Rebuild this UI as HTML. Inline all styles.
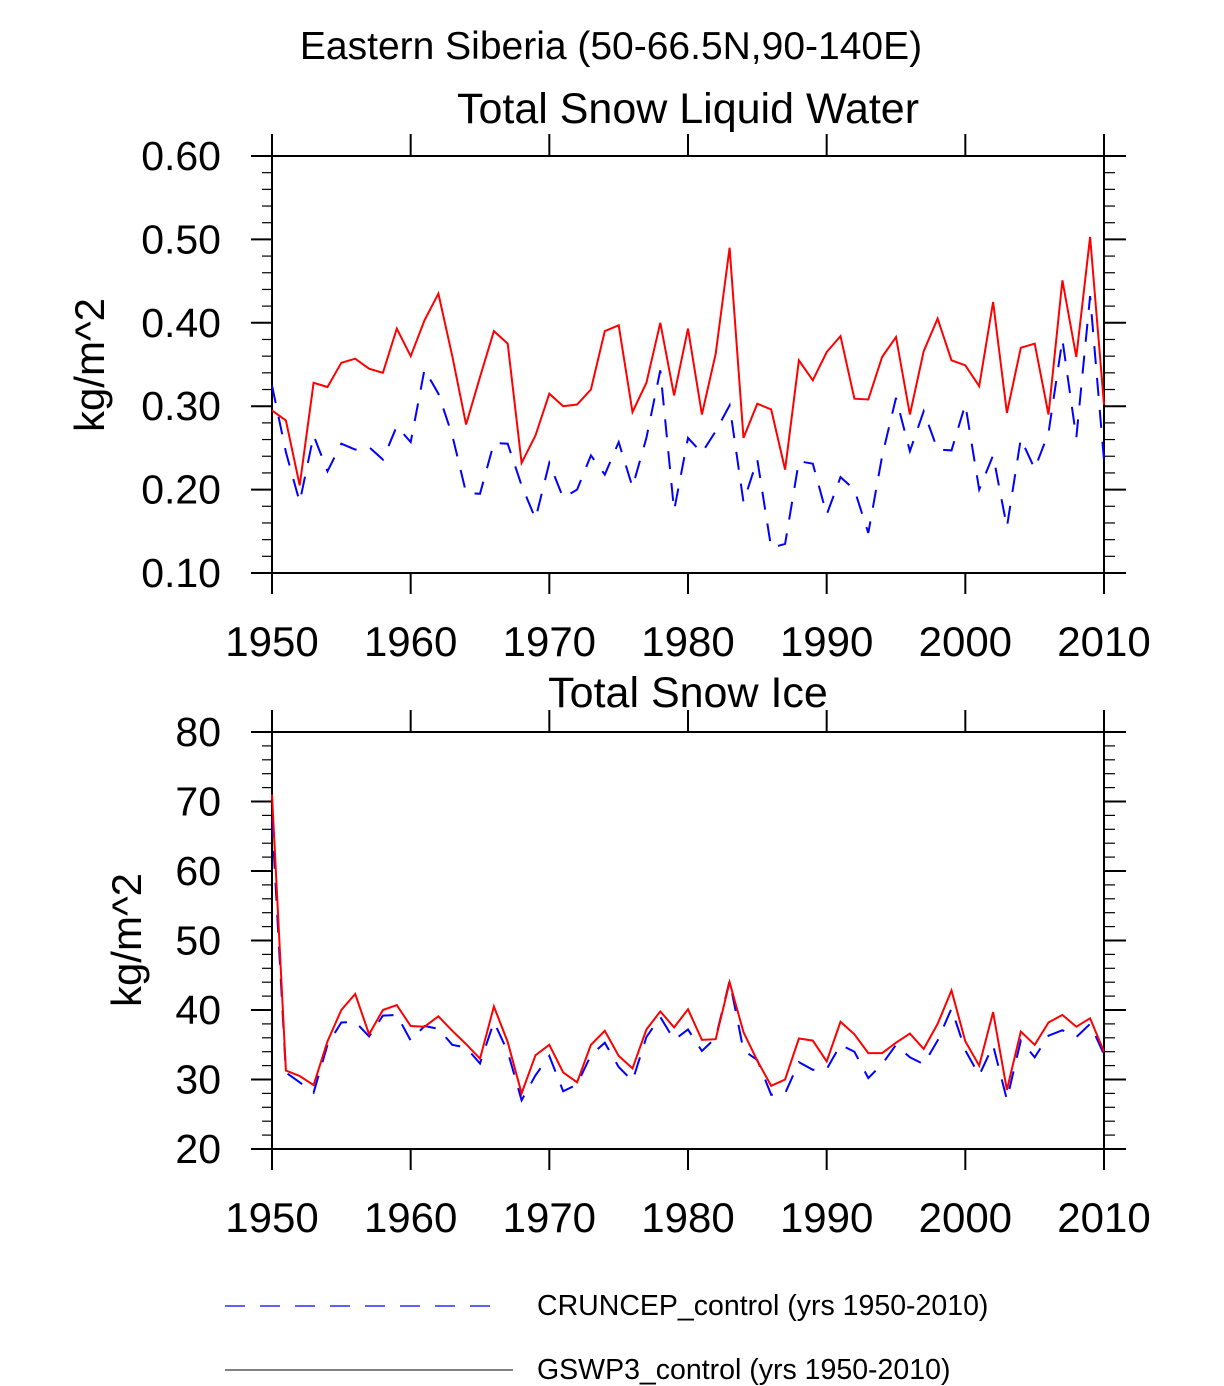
<!DOCTYPE html>
<html><head><meta charset="utf-8"><style>
html,body{margin:0;padding:0;background:#fff;}
svg{display:block;font-family:"Liberation Sans",sans-serif;}
</style></head><body>
<svg id="chart" width="1224" height="1386" viewBox="0 0 1224 1386" xmlns="http://www.w3.org/2000/svg">
<text x="611" y="59" font-size="39" text-anchor="middle">Eastern Siberia (50-66.5N,90-140E)</text>
<text x="688" y="123" font-size="43" text-anchor="middle">Total Snow Liquid Water</text>
<text x="688" y="707" font-size="43" text-anchor="middle">Total Snow Ice</text>
<text transform="translate(104,365) rotate(-90)" font-size="42" text-anchor="middle">kg/m^2</text>
<text transform="translate(141,940) rotate(-90)" font-size="42" text-anchor="middle">kg/m^2</text>
<g>
<line x1="225" y1="1306" x2="502" y2="1306" stroke="#0000ff" stroke-width="1.3" stroke-dasharray="20,15"/>
<text x="537" y="1315" font-size="28.5">CRUNCEP_control (yrs 1950-2010)</text>
<line x1="225" y1="1370" x2="513" y2="1370" stroke="#000" stroke-width="1"/>
<text x="537" y="1379" font-size="28.5">GSWP3_control (yrs 1950-2010)</text>
</g>
</svg>
<script>
const years = [];
for (let y = 1950; y <= 2010; y++) years.push(y);
const xTickLabels = ["1950","1960","1970","1980","1990","2000","2010"];
const liqTickLabels = ["0.10","0.20","0.30","0.40","0.50","0.60"];
const iceTickLabels = ["20","30","40","50","60","70","80"];
const liqGSWP3 = [0.295,0.283,0.205,0.328,0.323,0.352,0.357,0.345,0.340,0.393,0.360,0.403,0.435,0.360,0.278,0.335,0.390,0.375,0.232,0.265,0.315,0.300,0.302,0.320,0.390,0.397,0.293,0.328,0.400,0.313,0.393,0.290,0.363,0.490,0.262,0.303,0.296,0.224,0.355,0.331,0.365,0.384,0.309,0.308,0.359,0.383,0.290,0.366,0.405,0.355,0.349,0.324,0.425,0.292,0.370,0.375,0.290,0.451,0.359,0.503,0.302];
const liqCRUNCEP = [0.325,0.245,0.185,0.265,0.222,0.255,0.248,0.251,0.236,0.276,0.257,0.344,0.315,0.265,0.196,0.195,0.256,0.255,0.205,0.165,0.232,0.190,0.200,0.241,0.218,0.257,0.203,0.262,0.343,0.175,0.262,0.244,0.270,0.301,0.185,0.236,0.130,0.135,0.234,0.231,0.170,0.215,0.200,0.148,0.240,0.310,0.246,0.294,0.248,0.247,0.302,0.200,0.241,0.155,0.261,0.225,0.268,0.380,0.262,0.432,0.235];
const iceGSWP3 = [71,31.3,30.5,29.2,35.5,40,42.3,36.5,40,40.7,37.7,37.6,39.1,37,35.1,33,40.5,35.4,28,33.5,35,31,29.6,35,37,33.4,31.6,37.2,39.8,37.5,40.1,35.7,35.8,44,36.8,32.7,29.1,30,35.9,35.6,32.6,38.3,36.5,33.8,33.8,35.3,36.6,34.4,38,42.8,35.5,32,39.7,28.5,36.9,35,38.2,39.3,37.6,38.8,34];
const iceCRUNCEP = [67.5,31,29.6,28.1,35,38.2,38.3,36.2,39.2,39.3,35.6,37.7,37.3,35,34.6,32.3,38.3,34,27,30.6,33.4,28.3,29.3,33.5,35.3,31.8,29.8,36.1,39,35.7,37.2,34.1,36,44.2,34.2,32.8,27.8,28,32.5,31.4,31.5,35,34,30.2,32.2,35,33.2,32.2,35.6,40.2,34.2,30.6,34.9,27.1,35.6,33.2,36.3,37.1,36.1,38,33.6];

const NS = "http://www.w3.org/2000/svg";
const svg = document.getElementById("chart");
function mk(tag, attrs, parent) {
  const e = document.createElementNS(NS, tag);
  for (const k in attrs) e.setAttribute(k, attrs[k]);
  (parent || svg).appendChild(e);
  return e;
}
const X0 = 272, X1 = 1104;
function xScale(yr) { return X0 + (yr - 1950) / 60 * (X1 - X0); }

function panel(name, top, bottom, ymin, ymax, ticks, minorStep, series) {
  const g = mk("g", {});
  
  
  const ys = v => bottom - (v - ymin) / (ymax - ymin) * (bottom - top);
  const nMinor = Math.round((ymax - ymin) / minorStep);
  for (let i = 1; i < nMinor; i++) {
    const y = ys(ymin + i * minorStep);
    const l = mk("line", {x1: X0 - 10, y1: y, x2: X0, y2: y, stroke: "#000", "stroke-width": 1.2}, g);
    
    
    const r = mk("line", {x1: X1, y1: y, x2: X1 + 11, y2: y, stroke: "#000", "stroke-width": 1.2}, g);
    
    
  }
  ticks.forEach(lab => {
    const y = ys(parseFloat(lab));
    const l = mk("line", {x1: X0 - 21, y1: y, x2: X0, y2: y, stroke: "#000", "stroke-width": 2}, g);
    
    
    const r = mk("line", {x1: X1, y1: y, x2: X1 + 22, y2: y, stroke: "#000", "stroke-width": 2}, g);
    
    
    const t = mk("text", {x: 221, y: y + 14, "font-size": 41, "text-anchor": "end"}, g);
    t.textContent = lab;
    
    
  });
  xTickLabels.forEach(lab => {
    const x = xScale(parseInt(lab));
    const b = mk("line", {x1: x, y1: bottom, x2: x, y2: bottom + 21, stroke: "#000", "stroke-width": 2}, g);
    
    
    const tt = mk("line", {x1: x, y1: top - 22, x2: x, y2: top, stroke: "#000", "stroke-width": 2}, g);
    
    
    const t = mk("text", {x: x, y: bottom + 83, "font-size": 42, "text-anchor": "middle"}, g);
    t.textContent = lab;
    
    
  });
  const box = mk("rect", {x: X0, y: top, width: X1 - X0, height: bottom - top, fill: "none", stroke: "#000", "stroke-width": 2}, g);
  
  
  series.forEach(s => {
    const pts = s.data.map((v, i) => xScale(years[i]).toFixed(1) + "," + ys(v).toFixed(1)).join(" ");
    const attrs = {points: pts, fill: "none", stroke: s.color, "stroke-width": 2};
    if (s.dash) attrs["stroke-dasharray"] = s.dash;
    const p = mk("polyline", attrs, g);
    
    
  });
}
panel("liquid-water", 156, 573, 0.10, 0.60, liqTickLabels, 0.02, [
  {name: "cruncep-liquid-line", data: liqCRUNCEP, color: "#0000ff", dash: "18,14"},
  {name: "gswp3-liquid-line", data: liqGSWP3, color: "#ff0000"}
]);
panel("snow-ice", 732, 1149, 20, 80, iceTickLabels, 2, [
  {name: "cruncep-ice-line", data: iceCRUNCEP, color: "#0000ff", dash: "18,14"},
  {name: "gswp3-ice-line", data: iceGSWP3, color: "#ff0000"}
]);
</script>
</body></html>
